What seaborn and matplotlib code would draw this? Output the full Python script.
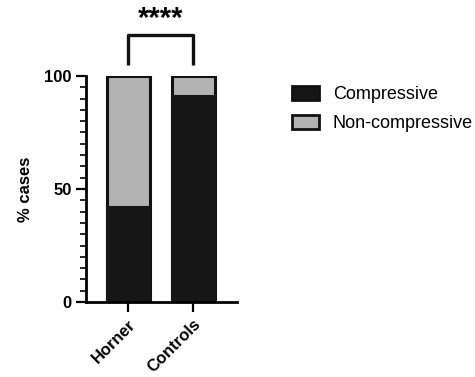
import numpy as np
import pandas as pd
import seaborn as sns
import matplotlib.pyplot as plt
from matplotlib.patches import Patch
from matplotlib.ticker import MultipleLocator

groups = ['Horner', 'Controls']
compressive = [42, 91]
non_compressive = [58, 9]
legend_labels = ['Compressive', 'Non-compressive']
signif = '****'

DARK = '#161616'
GREY = '#b3b3b3'

sns.set_style('ticks')
plt.rcParams['font.family'] = ['Liberation Sans', 'DejaVu Sans']
plt.rcParams['text.color'] = 'black'
plt.rcParams['axes.labelcolor'] = 'black'
plt.rcParams['xtick.color'] = 'black'
plt.rcParams['ytick.color'] = 'black'
plt.rcParams['axes.edgecolor'] = 'black'

df = pd.DataFrame({'group': groups,
                   'comp': compressive,
                   'total': np.array(compressive) + np.array(non_compressive)})

fig = plt.figure(figsize=(4.75, 3.77), dpi=100)
ax = fig.add_axes([86 / 475, 1 - 302 / 377, (237 - 86) / 475, (302 - 76) / 377])

# stacked bars: total first (grey), then compressive on top (dark)
sns.barplot(data=df, x='group', y='total', color=GREY, width=0.66,
            edgecolor='#111111', linewidth=2.2, ax=ax, saturation=1)
sns.barplot(data=df, x='group', y='comp', color=DARK, width=0.66,
            edgecolor=DARK, linewidth=1.5, ax=ax, saturation=1)

ax.set_ylim(0, 100)
ax.set_xlim(-0.65, 1.67)
ax.yaxis.set_major_locator(MultipleLocator(50))
ax.yaxis.set_minor_locator(MultipleLocator(5))
ax.tick_params(axis='both', which='major', length=7, width=1.6, direction='out', labelsize=12)
ax.tick_params(axis='y', which='minor', length=4, width=1.2)
for lab in ax.get_yticklabels():
    lab.set_fontweight('bold')
ax.set_xticks(range(len(groups)))
ax.set_xticklabels(groups, rotation=45, ha='right', rotation_mode='anchor',
                   fontweight='bold', fontsize=12)
ax.set_xlabel('')
ax.set_ylabel('% cases', fontsize=12, fontweight='bold', labelpad=8)
for sp in ['left', 'bottom']:
    ax.spines[sp].set_linewidth(2)
sns.despine(ax=ax)

# significance bracket
yb = 118
ax.plot([0, 0, 1, 1], [105, yb, yb, 105], color='#111111', lw=2.4, clip_on=False,
        solid_capstyle='butt')
ax.text(0.5, yb + 1, signif, ha='center', va='bottom', fontsize=21,
        fontweight='bold', transform=ax.transData, clip_on=False)

handles = [Patch(facecolor=DARK, edgecolor='#111111', linewidth=2),
           Patch(facecolor=GREY, edgecolor='#111111', linewidth=2)]
fig.legend(handles, legend_labels, loc='upper left', bbox_to_anchor=(276 / 475, 1 - 70 / 377),
           frameon=False, fontsize=13, handlelength=1.5, handleheight=0.8,
           labelspacing=0.65, handletextpad=0.75)

plt.savefig('out.png', dpi=100)
